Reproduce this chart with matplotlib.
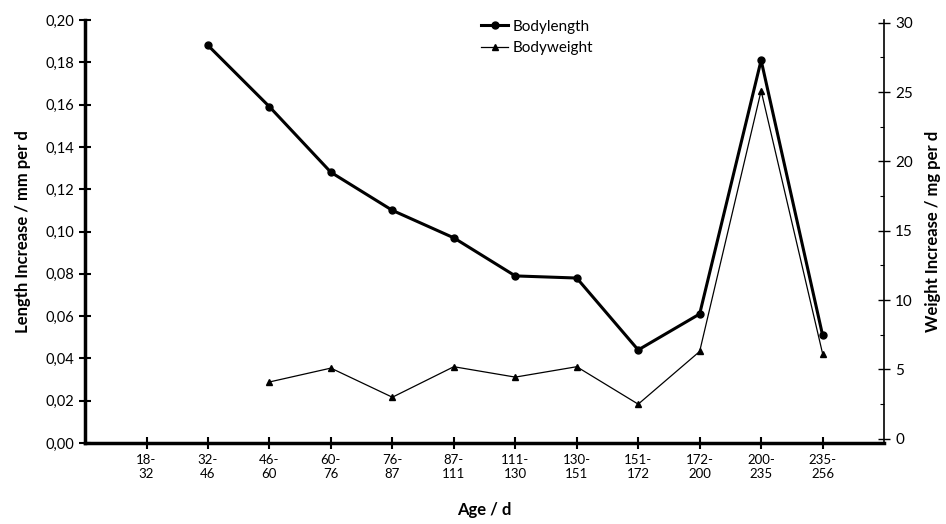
import matplotlib.pyplot as plt
import numpy as np

plt.rcParams['font.family'] = ['Lato', 'DejaVu Sans']

ages = ['18-\n32', '32-\n46', '46-\n60', '60-\n76', '76-\n87', '87-\n111',
        '111-\n130', '130-\n151', '151-\n172', '172-\n200', '200-\n235', '235-\n256']
# None = no value for that age class
bodylength = [None, 0.188, 0.159, 0.128, 0.110, 0.097, 0.079, 0.078, 0.044, 0.061, 0.181, 0.051]
bodyweight = [None, None, 4.1, 5.1, 3.0, 5.2, 4.45, 5.2, 2.5, 6.3, 25.1, 6.15]


def main():
    fig = plt.figure(figsize=(9.46, 5.24), dpi=100)
    ax = fig.add_axes([0.0899, 0.1546, 0.8446, 0.8072])
    ax2 = ax.twinx()

    x = np.arange(1, len(ages) + 1)
    bl = np.array([np.nan if v is None else v for v in bodylength])
    bw = np.array([np.nan if v is None else v for v in bodyweight])

    l1, = ax.plot(x, bl, '-o', color='black', linewidth=2.2, markersize=5, label='Bodylength')
    l2, = ax2.plot(x, bw, '-^', color='black', linewidth=0.9, markersize=5, label='Bodyweight')

    ax.set_xlim(0, 13)
    ax.set_ylim(0, 0.20)
    ax2.set_ylim(-0.3, 30.2)

    ax.set_xticks(x)
    ax.set_xticklabels(ages, fontsize=9.5)
    yt = np.arange(0, 0.201, 0.02)
    ax.set_yticks(yt)
    ax.set_yticklabels([('%.2f' % v).replace('.', ',') for v in yt], fontsize=10.5)
    ax2.set_yticks(np.arange(0, 31, 5))
    ax2.set_yticklabels([str(v) for v in range(0, 31, 5)], fontsize=11)
    ax2.set_yticks(np.arange(0, 31, 2.5), minor=True)

    ax.tick_params(axis='both', direction='inout', length=9, width=1.5)
    ax2.tick_params(axis='y', direction='inout', length=9, width=1)
    ax2.tick_params(axis='y', which='minor', direction='in', length=3, width=0.8)

    ax.spines['top'].set_visible(False)
    ax2.spines['top'].set_visible(False)
    ax.spines['left'].set_linewidth(2.5)
    ax.spines['bottom'].set_linewidth(2.5)
    ax.spines['right'].set_visible(False)
    ax2.spines['left'].set_visible(False)
    ax2.spines['bottom'].set_visible(False)
    ax2.spines['right'].set_linewidth(1.2)

    ax.set_xlabel('Age / d', fontsize=12, fontweight='bold', labelpad=16)
    ax.set_ylabel('Length Increase / mm per d', fontsize=12, fontweight='bold', labelpad=10)
    ax2.set_ylabel('Weight Increase / mg per d', fontsize=12, fontweight='bold', labelpad=9)

    ax.legend(handles=[l1, l2], loc='upper left', bbox_to_anchor=(0.48, 1.03),
              frameon=False, fontsize=11, handlelength=1.8, handletextpad=0.3,
              labelspacing=0.5, borderpad=0.3)

    fig.savefig('out.png', dpi=100)


if __name__ == '__main__':
    main()
